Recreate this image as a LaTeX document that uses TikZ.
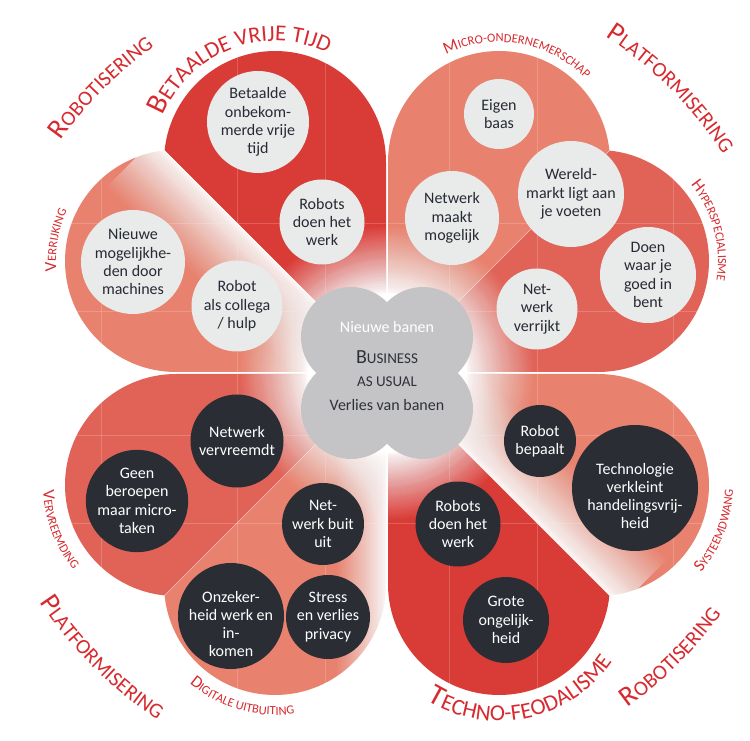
\documentclass[tikz,border=0pt]{standalone}
\usepackage{fontspec}
\setmainfont{Carlito}
\usetikzlibrary{decorations.text}

\definecolor{lobeRed}{HTML}{D93C37}
\definecolor{lobeMid}{HTML}{E16358}
\definecolor{lobeSalmon}{HTML}{E8826F}
\definecolor{titleRed}{HTML}{D72A2F}
\definecolor{bubbleLight}{HTML}{E9EAEA}
\definecolor{bubbleDark}{HTML}{2B2D35}
\definecolor{inkDark}{HTML}{262A33}
\definecolor{cloudGray}{HTML}{C4C4C6}
\definecolor{cloudInk}{HTML}{2E313A}

\newcommand\bubfont{\fontsize{16}{18.3}\selectfont}
\newcommand\capbig{\color{titleRed}\fontsize{28}{28}\selectfont}
\newcommand\capsmall{\color{titleRed}\fontsize{21}{21}\selectfont}
\newcommand\widebig{\color{titleRed}\fontsize{29.5}{29.5}\selectfont}
\newcommand\widesmall{\color{titleRed}\fontsize{22.8}{22.8}\selectfont}
\newcommand\labbig{\color{titleRed}\fontsize{17}{17}\selectfont}
\newcommand\labsmall{\color{titleRed}\fontsize{12.5}{12.5}\selectfont}

\tikzset{
  guide/.style={white, opacity=0.18, line width=0.6pt},
  bub/.style={circle, fill=bubbleLight, text=inkDark, align=center, inner sep=0pt, font=\bubfont},
  dbub/.style={circle, fill=bubbleDark, text=white, align=center, inner sep=0pt, font=\bubfont},
  btxt/.style={align=center, inner sep=0pt, font=\bubfont},
  arctext/.style={decorate, decoration={text along path, text align=center, text={#1}}},
}

% One quarter of the clover: a square with two round lobes, split along the diagonal.
% #1,#2 = mirror factors, #3 = lobe along the vertical axis, #4 = lobe along the horizontal axis
\newcommand\leafpair[4]{%
  \begin{scope}[shift={(C)}, xscale=#1, yscale=#2]
    \begin{scope}
      \clip (0,0) -- (0,500) -- (500,500) -- cycle;
      \clip (1,1) -- (211,1) -- (211,211) -- (1,211) -- cycle (112,211) circle[radius=111];
      \fill[#3] (-10,-10) rectangle (500,500);
      \foreach \g in {62,150} {\draw[guide] (\g,0) -- (\g,500); \draw[guide] (0,\g) -- (500,\g);}
    \end{scope}
    \begin{scope}
      \clip (0,0) -- (500,0) -- (500,500) -- cycle;
      \clip (1,1) -- (211,1) -- (211,211) -- (1,211) -- cycle (211,112) circle[radius=111];
      \fill[#4] (-10,-10) rectangle (500,500);
      \foreach \g in {62,150} {\draw[guide] (\g,0) -- (\g,500); \draw[guide] (0,\g) -- (500,\g);}
      \draw[guide] (286,0) -- (286,500);
    \end{scope}
  \end{scope}}

\begin{document}
\begin{tikzpicture}[x=1pt,y=1pt]
\path[use as bounding box, fill=white] (0,0) rectangle (750,740);
\coordinate (C) at (387,367);

% the four quarters
\leafpair{-1}{1}{lobeRed}{lobeSalmon}
\leafpair{1}{1}{lobeSalmon}{lobeMid}
\leafpair{-1}{-1}{lobeSalmon}{lobeMid}
\leafpair{1}{-1}{lobeRed}{lobeSalmon}

% white fade along the diagonal of the upper-left and lower-right quarters
\foreach \sx/\sy in {-1/1, 1/-1} {
  \begin{scope}[shift={(C)}, xscale=\sx, yscale=\sy]
    \clip (0,0) rectangle (500,500);
    \begin{scope}[rotate=45]
      \foreach \m in {1,...,33} {
        \pgfmathsetmacro\op{1/(\m+0.5)}
        \fill[white, opacity=\op] (0,0) rectangle (330,{-2*\m});
      }
    \end{scope}
  \end{scope}
}
% white fade along the axis in the lower-left quarter
\begin{scope}[shift={(C)}, xscale=-1, yscale=-1]
  \clip (0,0) -- (0,500) -- (500,500) -- cycle;
  \foreach \m in {1,...,25} {
    \pgfmathsetmacro\op{1/(\m+0.5)}
    \fill[white, opacity=\op] (0,0) rectangle ({2*\m},330);
  }
\end{scope}

% glow around the centre
\fill[white] (C) circle[radius=80];
\foreach \m in {1,...,33} {
  \pgfmathsetmacro\op{1/(\m+0.5)}
  \fill[white, opacity=\op] (C) circle[radius={80+2*\m}];
}

% thin light seams on the other two diagonals
\draw[white, opacity=0.5, line width=0.7pt, shift={(C)}] (0,0) -- (224,224);
\draw[white, opacity=0.5, line width=0.7pt, shift={(C)}] (0,0) -- (-224,-224);

% central cloud
\fill[cloudGray, shift={(C)}] (-36,36) circle[radius=50] (36,36) circle[radius=50]
  (-36,-36) circle[radius=50] (36,-36) circle[radius=50];
\fill[cloudGray, shift={(C)}] (-45,-45) rectangle (45,45);
\node[anchor=base, text=white, font=\fontsize{16}{16}\selectfont] (cloudNew) at (387,407) {Nieuwe banen};
\node[anchor=base, text=cloudInk] (cloudBiz) at (387,376) {{\fontsize{20}{20}\selectfont B}{\fontsize{15}{15}\selectfont USINESS}};
\node[anchor=base, text=cloudInk, font=\fontsize{15}{15}\selectfont] (cloudUsual) at (387,353) {AS USUAL};
\node[anchor=base, text=cloudInk, font=\fontsize{16}{16}\selectfont] (cloudLoss) at (387,329) {Verlies van banen};

% upper-left bubbles
\node[bub, minimum size=102] (bPaidTime) at (258,618) {Betaalde\\onbekom-\\merde vrije\\tijd};
\node[bub, minimum size=85] (bRobotsWork) at (322,518) {Robots\\doen het\\werk};
\node[bub, minimum size=104] (bNewOptions) at (133,478) {Nieuwe\\mogelijkhe-\\den door\\machines};
\node[bub, minimum size=91] (bColleague) at (237,434) {Robot\\als collega\\/ hulp};

% upper-right bubbles
\node[bub, minimum size=70] (bOwnBoss) at (499,626) {Eigen\\baas};
\node[bub, minimum size=94] (bNetEnables) at (452,522) {Netwerk\\maakt\\mogelijk};
\node[bub, minimum size=106] (bWorldMarket) at (571,546) {Wereld-\\markt ligt aan\\je voeten};
\node[bub, minimum size=96] (bStrengths) at (648,465) {Doen\\waar je\\goed in\\bent};
\node[bub, minimum size=81] (bNetEnriches) at (537,431) {Net-\\werk\\verrijkt};

% lower-left bubbles
\node[dbub, minimum size=93] (bNetAlienates) at (237,299) {Netwerk\\vervreemdt};
\node[dbub, minimum size=102] (bMicroTasks) at (137,239) {Geen\\beroepen\\maar micro-\\taken};
\node[dbub, minimum size=82] (bNetExploits) at (323,216) {Net-\\werk buit\\uit};
\node[dbub, minimum size=106] (bInsecurity) at (231,124) {};
\node[btxt, text=white] (bInsecurityText) at ([yshift=-8]bInsecurity.center) {Onzeker-\\heid werk en\\in-\\komen};
\node[dbub, minimum size=84] (bPrivacy) at (328,123) {Stress\\en verlies\\privacy};

% lower-right bubbles
\node[dbub, minimum size=72] (bRobotDecides) at (540,299) {Robot\\bepaalt};
\node[dbub, minimum size=126] (bTechShrinks) at (635,252) {};
\node[btxt, text=white] (bTechShrinksText) at ([yshift=-8]bTechShrinks.center) {Technologie\\verkleint\\handelingsvrij-\\heid};
\node[dbub, minimum size=85] (bRobotsWork2) at (458,216) {Robots\\doen het\\werk};
\node[dbub, minimum size=86] (bInequality) at (506,120) {Grote\\ongelijk-\\heid};

% titles around the whole clover
\path[shift={(C)}, arctext={|\capbig|R|\capsmall|OBOTISERING}] (165:401) arc[start angle=165, end angle=105, radius=401];
\path[shift={(C)}, arctext={|\capbig|P|\capsmall|LATFORMISERING}] (75:401) arc[start angle=75, end angle=15, radius=401];
\path[shift={(C)}, arctext={|\capbig|P|\capsmall|LATFORMISERING}] (195:416) arc[start angle=195, end angle=255, radius=416];
\path[shift={(C)}, arctext={|\capbig|R|\capsmall|OBOTISERING}] (285:412) arc[start angle=285, end angle=345, radius=412];

% labels around the single lobes
\path[shift={(275,578)}, arctext={|\widebig|B|\widesmall|ETAALDE VRIJE TIJD}] (171:121) arc[start angle=171, end angle=51, radius=121];
\path[shift={(499,578)}, arctext={|\labbig|M|\labsmall|ICRO-ONDERNEMERSCHAP}] (140:120) arc[start angle=140, end angle=20, radius=120];
\path[shift={(598,479)}, arctext={|\labbig|H|\labsmall|YPERSPECIALISME}] (75:120) arc[start angle=75, end angle=-45, radius=120];
\path[shift={(176,479)}, arctext={|\labbig|V|\labsmall|ERRIJKING}] (230:120) arc[start angle=230, end angle=110, radius=120];
\path[shift={(176,255)}, arctext={|\labbig|V|\labsmall|ERVREEMDING}] (141:133) arc[start angle=141, end angle=261, radius=133];
\path[shift={(275,156)}, arctext={|\labbig|D|\labsmall|IGITALE UITBUITING}] (194:131) arc[start angle=194, end angle=314, radius=131];
\path[shift={(499,156)}, arctext={|\widebig|T|\widesmall|ECHNO-FEODALISME}] (212:137) arc[start angle=212, end angle=352, radius=137];
\path[shift={(598,255)}, arctext={|\labbig|S|\labsmall|YSTEEMDWANG}] (279:135) arc[start angle=279, end angle=399, radius=135];
\end{tikzpicture}
\end{document}
